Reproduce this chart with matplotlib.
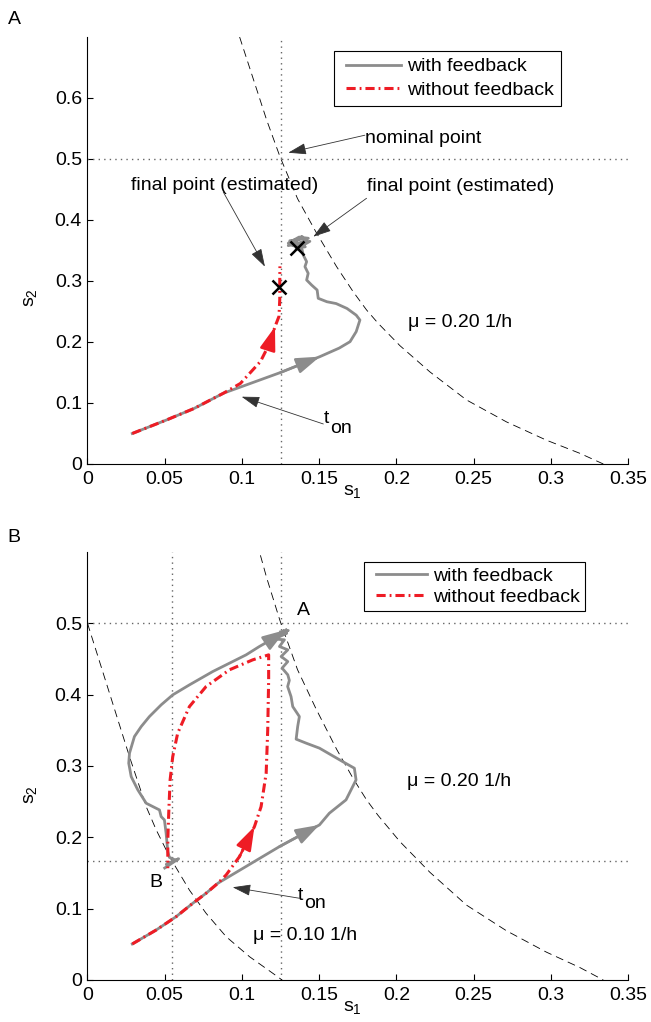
import matplotlib
matplotlib.use("Agg")
from matplotlib import pyplot as plt
from matplotlib.legend_handler import HandlerLine2D

plt.rcParams["font.family"] = ["Liberation Sans", "DejaVu Sans"]
plt.rcParams["mathtext.fontset"] = "custom"
plt.rcParams["mathtext.rm"] = "Liberation Sans"
plt.rcParams["mathtext.it"] = "Liberation Sans"
plt.rcParams["font.size"] = 14

# ---------------------------------------------------------------------------
# data (s1, s2 in g/L)
# ---------------------------------------------------------------------------
# growth-rate isolines
mu020_s1 = [0.0985, 0.116, 0.1246, 0.136, 0.148, 0.1613, 0.172, 0.1807, 0.1882, 0.2023, 0.2217,
            0.2454, 0.2713, 0.2972, 0.3188, 0.334]
mu020_s2 = [0.700, 0.564, 0.504, 0.435, 0.380, 0.3235, 0.2825, 0.2525, 0.2306, 0.194, 0.151,
            0.105, 0.069, 0.039, 0.0175, 0.0]
mu010_s1 = [0.0, 0.0272, 0.038, 0.0445, 0.0531, 0.066, 0.0768, 0.0898, 0.1049, 0.120, 0.126]
mu010_s2 = [0.50, 0.313, 0.243, 0.2104, 0.173, 0.126, 0.0935, 0.0607, 0.0327, 0.0094, 0.0]

# set points
nominal_point = [0.125, 0.5]
point_b = [0.055, 1 / 6]

# panel A trajectories
red_a_s1 = [0.029, 0.051, 0.069, 0.088, 0.099, 0.112, 0.118, 0.1214, 0.124, 0.1245, 0.1245, 0.1246]
red_a_s2 = [0.050, 0.072, 0.091, 0.116, 0.132, 0.168, 0.198, 0.225, 0.242, 0.270, 0.300, 0.324]
red_a_arrow = 7
gray_a_s1 = [0.029, 0.051, 0.069, 0.088, 0.125, 0.1505, 0.163, 0.170, 0.174, 0.1764, 0.174, 0.168,
             0.161, 0.155, 0.1494, 0.1487, 0.1451, 0.1419, 0.1429, 0.1408, 0.1419, 0.1397, 0.139,
             0.135, 0.130, 0.137, 0.143, 0.131, 0.140, 0.133, 0.142, 0.135, 0.144, 0.130, 0.139,
             0.134, 0.141, 0.136]
gray_a_s2 = [0.050, 0.072, 0.091, 0.116, 0.150, 0.176, 0.190, 0.2005, 0.217, 0.236, 0.244, 0.255,
             0.263, 0.266, 0.2716, 0.2852, 0.2934, 0.3016, 0.3126, 0.3235, 0.3317, 0.3426, 0.351,
             0.356, 0.362, 0.372, 0.370, 0.366, 0.360, 0.359, 0.366, 0.352, 0.365, 0.358, 0.373,
             0.364, 0.356, 0.354]
gray_a_arrow = 5
final_red_a = [0.1242, 0.2907]
final_gray_a = [0.1358, 0.3536]

# panel B trajectories
red_b_s1 = [0.029, 0.0445, 0.0574, 0.0682, 0.0768, 0.0844, 0.0898, 0.0984, 0.1081, 0.1124, 0.1157,
            0.1167, 0.1173, 0.1173, 0.107, 0.0919, 0.0768, 0.066, 0.0584, 0.0552, 0.0535, 0.0526,
            0.052, 0.052]
red_b_s2 = [0.0505, 0.0701, 0.0888, 0.1076, 0.1216, 0.1356, 0.1473, 0.1729, 0.215, 0.243, 0.290,
            0.3506, 0.4208, 0.4558, 0.4488, 0.4348, 0.4114, 0.3833, 0.346, 0.3132, 0.2805, 0.2338,
            0.1964, 0.1567]
red_b_arrow = 8
gray_b_s1 = [0.029, 0.0445, 0.0574, 0.0682, 0.0768, 0.0844, 0.1243, 0.1502, 0.1566, 0.1674, 0.1739,
             0.1728, 0.1652, 0.1502, 0.1416, 0.1351, 0.1361, 0.1372, 0.1329, 0.1318, 0.1296, 0.1307,
             0.1297, 0.126, 0.1297, 0.1254, 0.1297, 0.1243, 0.1275, 0.121, 0.129, 0.123, 0.130, 0.125]
gray_b_s2 = [0.0505, 0.0701, 0.0888, 0.1076, 0.1216, 0.1356, 0.187, 0.2174, 0.2338, 0.2525, 0.2805,
             0.2969, 0.3062, 0.325, 0.332, 0.3376, 0.3553, 0.3693, 0.3833, 0.3973, 0.4114, 0.420,
             0.4278, 0.4372, 0.4464, 0.4535, 0.4628, 0.4675, 0.4769, 0.478, 0.486, 0.483, 0.490, 0.488]
gray_b_arrow = 7
# switch from B back to the nominal point
gray_b2_s1 = [0.050, 0.059, 0.051, 0.057, 0.053, 0.052, 0.0509, 0.0498, 0.0477, 0.0466, 0.038, 0.0326,
              0.0283, 0.0267, 0.0272, 0.0304, 0.0348, 0.0401, 0.0477, 0.0552, 0.066, 0.0811, 0.0919,
              0.1027, 0.1113, 0.1189, 0.1286]
gray_b2_s2 = [0.157, 0.170, 0.162, 0.168, 0.172, 0.180, 0.2057, 0.2244, 0.229, 0.2384, 0.2478, 0.2665,
              0.2851, 0.3039, 0.318, 0.3413, 0.3553, 0.3693, 0.3857, 0.3997, 0.4137, 0.4324, 0.4441,
              0.4558, 0.4675, 0.4769, 0.4909]
gray_b2_arrow = 26

x_ticks = [0, 0.05, 0.1, 0.15, 0.2, 0.25, 0.3, 0.35]
x_tick_labels = ["0", "0.05", "0.1", "0.15", "0.2", "0.25", "0.3", "0.35"]
y_ticks_a = [0, 0.1, 0.2, 0.3, 0.4, 0.5, 0.6]
y_ticks_b = [0, 0.1, 0.2, 0.3, 0.4, 0.5]

GRAY = "0.55"
RED = "#ee1c25"
DOT = "0.4"

fig = plt.figure(figsize=(6.51, 10.22), dpi=100)
ax_a = fig.add_axes([0.1344, 0.546, 0.8303, 0.4178])
ax_b = fig.add_axes([0.1344, 0.0411, 0.8303, 0.4188])


class InsetLine(HandlerLine2D):
    # legend line sample that starts a little in from the frame
    def __init__(self, inset, **kw):
        super().__init__(**kw)
        self.inset = inset

    def create_artists(self, legend, orig_handle, xdescent, ydescent, width, height, fontsize, trans):
        return super().create_artists(legend, orig_handle, xdescent - self.inset, ydescent,
                                      width - self.inset, height, fontsize, trans)


def setup_axes(ax, ymax, yticks):
    ax.set_xlim(0, 0.35)
    ax.set_ylim(0, ymax)
    ax.set_xticks(x_ticks)
    ax.set_xticklabels(x_tick_labels)
    ax.set_yticks(yticks)
    ax.set_yticklabels([f"{t:g}" for t in yticks])
    for side in ["top", "right"]:
        ax.spines[side].set_visible(False)
    for side in ["left", "bottom"]:
        ax.spines[side].set_linewidth(0.8)
    ax.tick_params(direction="in", length=4, width=0.8, top=False, right=False)
    ax.tick_params(axis="x", pad=5)
    ax.tick_params(axis="y", pad=4)
    ax.set_xlabel(r"$\mathregular{s_1}$")
    ax.set_ylabel(r"$\mathregular{s_2}$")


def draw_head(ax, s1, s2, i, color):
    ax.annotate("", xy=(s1[i], s2[i]), xytext=(s1[i - 1], s2[i - 1]),
                arrowprops=dict(arrowstyle="-|>,head_length=0.9,head_width=0.3", color=color,
                                lw=1.8, mutation_scale=16, shrinkA=0, shrinkB=0), zorder=5)


def pointer(ax, tail, tip):
    ax.annotate("", xy=tip, xytext=tail,
                arrowprops=dict(arrowstyle="-|>,head_length=0.7,head_width=0.22", color="0.2",
                                lw=0.6, mutation_scale=16, shrinkA=0, shrinkB=0))


# ----------------------------- panel A ------------------------------------
setup_axes(ax_a, 0.7, y_ticks_a)
ax_a.axhline(nominal_point[1], color=DOT, lw=1, ls=(0, (1, 3)))
ax_a.axvline(nominal_point[0], color=DOT, lw=1, ls=(0, (1, 3)))
ax_a.plot(mu020_s1, mu020_s2, color="k", lw=0.6, dashes=(9.5, 6))

gray_line, = ax_a.plot(gray_a_s1, gray_a_s2, color=GRAY, lw=2.0, solid_joinstyle="round",
                       label="with feedback", zorder=3)
red_line, = ax_a.plot(red_a_s1, red_a_s2, color=RED, lw=2.2, dashes=(3, 1.3, 0.6, 1.3),
                      label="without feedback", zorder=4)
draw_head(ax_a, gray_a_s1, gray_a_s2, gray_a_arrow, GRAY)
draw_head(ax_a, red_a_s1, red_a_s2, red_a_arrow, RED)
ax_a.plot(*final_red_a, "kx", ms=10, mew=1.8, zorder=6)
ax_a.plot(*final_gray_a, "kx", ms=10, mew=1.8, zorder=6)

ax_a.text(0.1796, 0.534, "nominal point", va="center", ha="left")
pointer(ax_a, (0.1796, 0.539), (0.130, 0.5103))
ax_a.text(0.0885, 0.457, "final point (estimated)", va="center", ha="center")
pointer(ax_a, (0.0879, 0.446), (0.1149, 0.3235))
ax_a.text(0.1807, 0.4546, "final point (estimated)", va="center", ha="left")
pointer(ax_a, (0.1807, 0.4356), (0.1462, 0.3726))
ax_a.text(0.2074, 0.232, "\u03bc = 0.20 1/h", va="center", ha="left")
ax_a.text(0.1531, 0.0667, "t", va="baseline", ha="left")
ax_a.text(0.157, 0.0503, "on", va="baseline", ha="left")
pointer(ax_a, (0.1527, 0.0656), (0.0998, 0.1103))

leg = ax_a.legend(handles=[gray_line, red_line], loc="upper left", bbox_to_anchor=(0.456, 0.968),
                  borderaxespad=0, fancybox=False, edgecolor="k", framealpha=1, borderpad=0.37,
                  labelspacing=0.29, handlelength=3.1, handletextpad=0.27,
                  handler_map={gray_line: InsetLine(3.6), red_line: InsetLine(3.6)})
leg.get_frame().set_linewidth(0.8)

# ----------------------------- panel B ------------------------------------
setup_axes(ax_b, 0.6, y_ticks_b)
ax_b.axhline(nominal_point[1], color=DOT, lw=1, ls=(0, (1, 3)))
ax_b.axvline(nominal_point[0], color=DOT, lw=1, ls=(0, (1, 3)))
ax_b.axhline(point_b[1], color=DOT, lw=1, ls=(0, (1, 3)))
ax_b.axvline(point_b[0], color=DOT, lw=1, ls=(0, (1, 3)))
ax_b.plot(mu020_s1, mu020_s2, color="k", lw=0.6, dashes=(9.5, 6))
ax_b.plot(mu010_s1, mu010_s2, color="k", lw=0.6, dashes=(9.5, 6))

gray_line_b, = ax_b.plot(gray_b_s1, gray_b_s2, color=GRAY, lw=2.0, solid_joinstyle="round",
                         label="with feedback", zorder=3)
ax_b.plot(gray_b2_s1, gray_b2_s2, color=GRAY, lw=2.0, solid_joinstyle="round", zorder=3)
red_line_b, = ax_b.plot(red_b_s1, red_b_s2, color=RED, lw=2.2, dashes=(3, 1.3, 0.6, 1.3),
                        label="without feedback", zorder=4)
draw_head(ax_b, gray_b_s1, gray_b_s2, gray_b_arrow, GRAY)
draw_head(ax_b, gray_b2_s1, gray_b2_s2, gray_b2_arrow, GRAY)
draw_head(ax_b, red_b_s1, red_b_s2, red_b_arrow, RED)

ax_b.text(0.1398, 0.5175, "A", va="center", ha="center")
ax_b.text(0.044, 0.136, "B", va="center", ha="center")
ax_b.text(0.2071, 0.2777, "\u03bc = 0.20 1/h", va="center", ha="left")
ax_b.text(0.107, 0.0617, "\u03bc = 0.10 1/h", va="center", ha="left")
ax_b.text(0.1359, 0.1122, "t", va="baseline", ha="left")
ax_b.text(0.1405, 0.1006, "on", va="baseline", ha="left")
pointer(ax_b, (0.1372, 0.1146), (0.094, 0.13))

leg_b = ax_b.legend(handles=[gray_line_b, red_line_b], loc="upper left", bbox_to_anchor=(0.5116, 0.9766),
                    borderaxespad=0, fancybox=False, edgecolor="k", framealpha=1, borderpad=0.28,
                    labelspacing=0.15, handlelength=2.95, handletextpad=0.32,
                    handler_map={gray_line_b: InsetLine(5), red_line_b: InsetLine(5)})
leg_b.get_frame().set_linewidth(0.8)

for ax in [ax_a, ax_b]:
    ax.xaxis.set_label_coords(0.49, -0.045)
ax_a.yaxis.set_label_coords(-0.09, 0.39)
ax_b.yaxis.set_label_coords(-0.09, 0.432)

fig.text(0.0215, 0.9814, "A", ha="center", va="center")
fig.text(0.0215, 0.4736, "B", ha="center", va="center")

fig.savefig("out.png", dpi=100)
plt.close(fig)
